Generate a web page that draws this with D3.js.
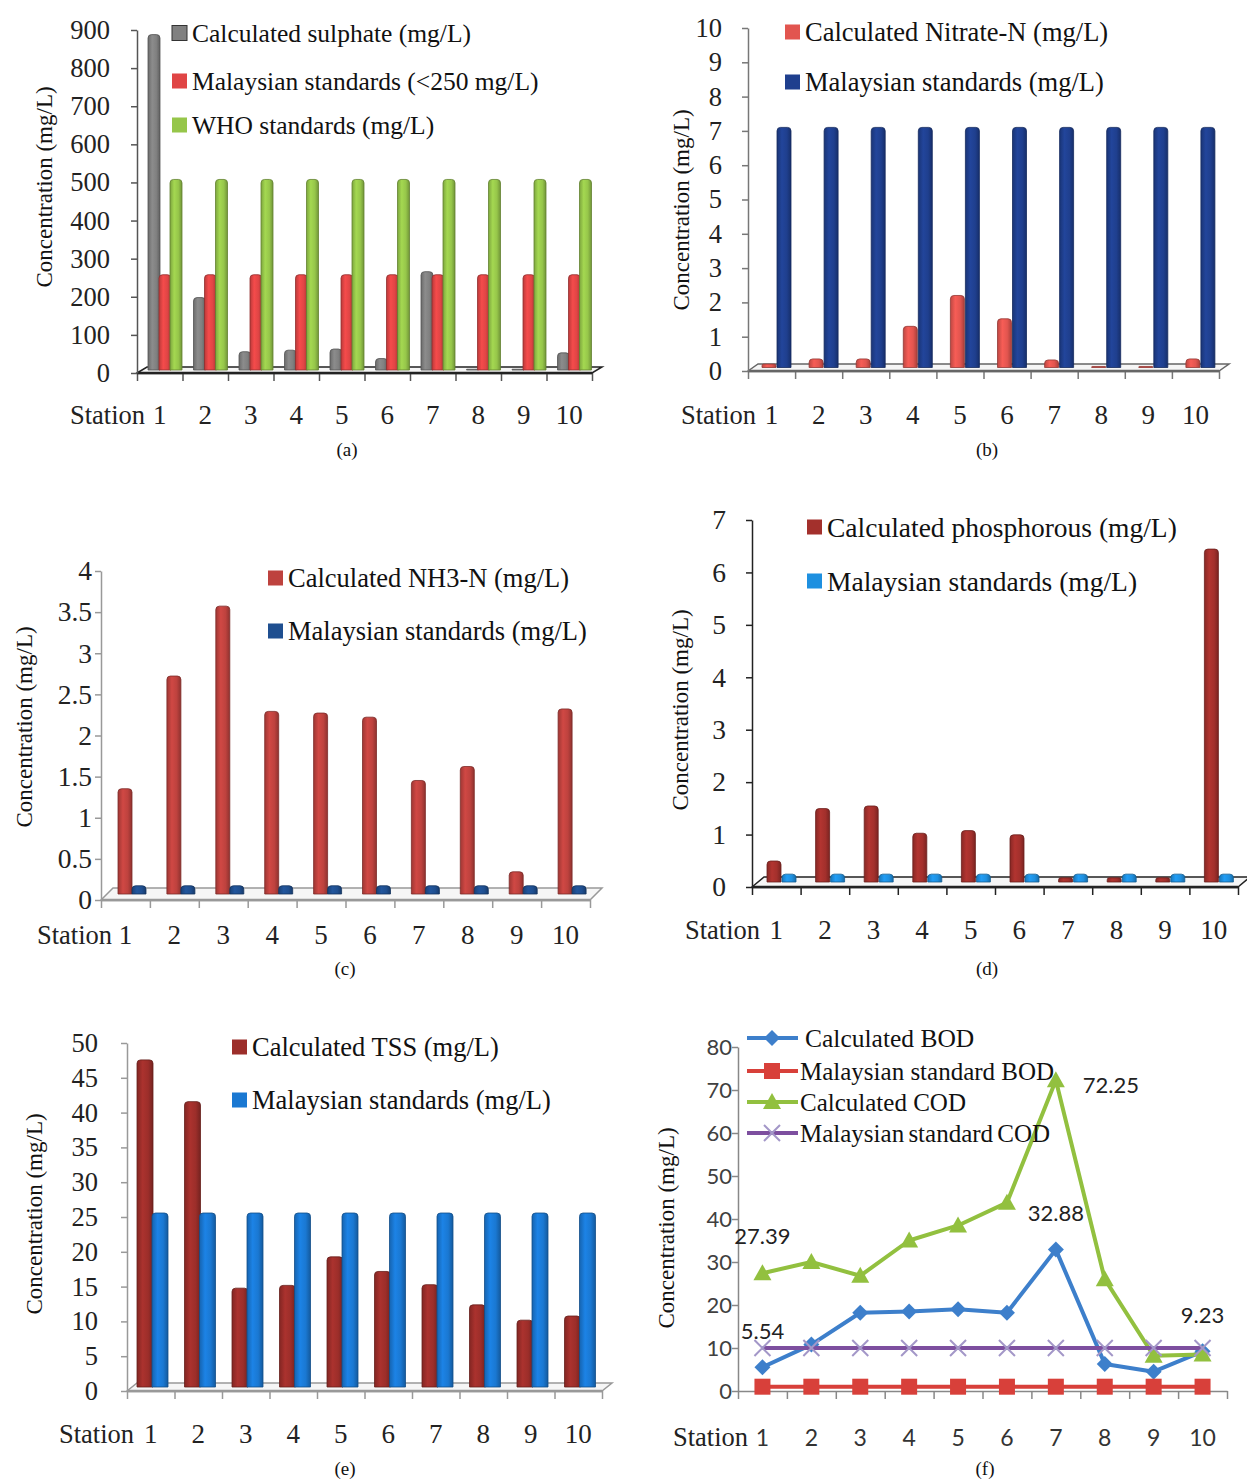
<!DOCTYPE html>
<html>
<head>
<meta charset="utf-8">
<script src="https://cdn.jsdelivr.net/npm/d3@7"></script>
<style>
  body { margin: 0; background: #fff; }
</style>
</head>
<body>
<svg id="fig" width="1247" height="1479"></svg>
<script>
'use strict';

var stations = ['1', '2', '3', '4', '5', '6', '7', '8', '9', '10'];

/* (a) sulphate */
var sulphate    = [880, 190, 48, 52, 55, 30, 258, 2, 2, 45];
var sulphateMy  = [250, 250, 250, 250, 250, 250, 250, 250, 250, 250];
var sulphateWho = [500, 500, 500, 500, 500, 500, 500, 500, 500, 500];

/* (b) nitrate */
var nitrate   = [0.1, 0.25, 0.25, 1.2, 2.1, 1.42, 0.22, 0.03, 0.03, 0.25];
var nitrateMy = [7, 7, 7, 7, 7, 7, 7, 7, 7, 7];

/* (c) NH3-N */
var nh3   = [1.28, 2.65, 3.5, 2.22, 2.2, 2.15, 1.38, 1.55, 0.27, 2.25];
var nh3My = [0.1, 0.1, 0.1, 0.1, 0.1, 0.1, 0.1, 0.1, 0.1, 0.1];

/* (d) phosphorous */
var phos   = [0.4, 1.4, 1.45, 0.93, 0.98, 0.9, 0.08, 0.08, 0.08, 6.35];
var phosMy = [0.15, 0.15, 0.15, 0.15, 0.15, 0.15, 0.15, 0.15, 0.15, 0.15];

/* (e) TSS */
var tss   = [47, 41, 14.2, 14.6, 18.7, 16.6, 14.7, 11.8, 9.6, 10.2];
var tssMy = [25, 25, 25, 25, 25, 25, 25, 25, 25, 25];

/* (f) BOD / COD */
var bod   = [5.54, 10.8, 18.2, 18.5, 19, 18.2, 32.88, 6.3, 4.5, 9.23];
var bodMy = [1, 1, 1, 1, 1, 1, 1, 1, 1, 1];
var cod   = [27.39, 30, 26.8, 35, 38.5, 43.8, 72.25, 26, 8.2, 8.5];
var codMy = [10, 10, 10, 10, 10, 10, 10, 10, 10, 10];

var codLabels = [0, 6];        // station index of labelled COD points
var bodLabels = [0, 6, 9];     // station index of labelled BOD points

var SERIF = '"Liberation Serif", "Times New Roman", serif';
var SANS = 'Lato, "Liberation Sans", sans-serif';

var svg = d3.select('#fig');
var defs = svg.append('defs');
var gradCount = 0;

function barFill(color) {
  var id = 'grad' + (gradCount++);
  var c = d3.color(color);
  var lg = defs.append('linearGradient').attr('id', id)
    .attr('x1', 0).attr('x2', 1).attr('y1', 0).attr('y2', 0);
  lg.append('stop').attr('offset', '0%').attr('stop-color', c.darker(0.5));
  lg.append('stop').attr('offset', '35%').attr('stop-color', c.brighter(0.25));
  lg.append('stop').attr('offset', '70%').attr('stop-color', c);
  lg.append('stop').attr('offset', '100%').attr('stop-color', c.darker(0.8));
  return 'url(#' + id + ')';
}

function barPath(x, w, yt, yb) {
  var r = Math.min(3.5, (yb - yt) / 2, w / 2);
  return 'M' + x + ',' + yb + 'V' + (yt + r) +
    'Q' + x + ',' + yt + ' ' + (x + r) + ',' + yt +
    'H' + (x + w - r) +
    'Q' + (x + w) + ',' + yt + ' ' + (x + w) + ',' + (yt + r) +
    'V' + yb + 'Z';
}

function yTitle(cx, cy) {
  svg.append('text')
    .attr('transform', 'translate(' + cx + ',' + cy + ') rotate(-90)')
    .attr('text-anchor', 'middle')
    .attr('dominant-baseline', 'central')
    .style('font-family', SERIF)
    .style('font-size', '23px')
    .style('fill', '#111')
    .text('Concentration (mg/L)');
}

function caption(cx, cy, t) {
  svg.append('text')
    .attr('x', cx).attr('y', cy)
    .attr('text-anchor', 'middle')
    .attr('dominant-baseline', 'central')
    .style('font-family', SERIF)
    .style('font-size', '19px')
    .style('fill', '#111')
    .text(t);
}

function stationRow(xb, stationEnd, ly, sans) {
  svg.append('text')
    .attr('x', stationEnd).attr('y', ly)
    .attr('text-anchor', 'end')
    .attr('dominant-baseline', 'central')
    .style('font-family', SERIF)
    .style('font-size', '26.5px')
    .style('fill', '#222')
    .text('Station');
  svg.append('g').selectAll('text')
    .data(stations)
    .enter()
    .append('text')
    .attr('x', function (d) { return xb(d) + xb.bandwidth() / 2; })
    .attr('y', ly)
    .attr('text-anchor', 'middle')
    .attr('dominant-baseline', 'central')
    .style('font-family', sans ? SANS : SERIF)
    .style('font-size', sans ? '23px' : '27px')
    .style('fill', sans ? '#333' : '#222')
    .text(function (d) { return d; });
}

function yAxis(y, x0, n, pad, color, size, sans) {
  var ax = svg.append('g')
    .attr('transform', 'translate(' + x0 + ',0)')
    .call(d3.axisLeft(y)
      .tickValues(y.ticks(n))
      .tickSize(6)
      .tickSizeOuter(0)
      .tickPadding(pad)
      .tickFormat(function (d) { return String(d); }));
  ax.attr('font-family', null).attr('font-size', null);
  ax.selectAll('path, line').attr('stroke', color).attr('stroke-width', 1.5);
  ax.selectAll('text')
    .style('font-family', sans ? SANS : SERIF)
    .style('font-size', size + 'px')
    .style('fill', sans ? '#404040' : '#222');
}

function xTicks(x0, x1, y0, color) {
  var xe = d3.scaleLinear().domain([0, stations.length]).range([x0, x1]);
  var ax = svg.append('g')
    .attr('transform', 'translate(0,' + y0 + ')')
    .call(d3.axisBottom(xe).ticks(stations.length).tickSize(8).tickSizeOuter(0).tickFormat(''));
  ax.selectAll('path, line').attr('stroke', color).attr('stroke-width', 1.5);
}

/* ---------- 3D-ish clustered column panel ---------- */
function barPanel(p) {
  var y = d3.scaleLinear().domain([0, p.yMax]).range([p.y0, p.yTop]);
  var xb = d3.scaleBand().domain(stations).range([p.x0, p.x1]);
  var xs = d3.scaleBand().domain(d3.range(p.series.length))
    .range([p.groupStart, p.groupStart + p.step * p.series.length]);

  xTicks(p.x0, p.x1, p.y0, p.axisColor);

  /* Floor */
  svg.append('path')
    .attr('d', 'M' + p.x0 + ',' + p.y0 + 'L' + (p.x0 + p.dx) + ',' + (p.y0 - p.dy) +
      'L' + (p.x1 + p.dx) + ',' + (p.y0 - p.dy) + 'L' + p.x1 + ',' + p.y0 + 'Z')
    .attr('fill', '#f6f6f6')
    .attr('stroke', p.floorColor)
    .attr('stroke-width', 1.5);
  svg.append('line')
    .attr('x1', p.x0).attr('x2', p.x1).attr('y1', p.y0).attr('y2', p.y0)
    .attr('stroke', p.floorColor).attr('stroke-width', 2.5);

  yAxis(y, p.x0, p.nTicks, p.pad, p.axisColor, p.tickSize, false);

  /* Bars */
  var lift = p.dy / 2;
  p.series.forEach(function (s, si) {
    var fill = barFill(s.color);
    svg.append('g').selectAll('path')
      .data(s.values)
      .enter()
      .append('path')
      .attr('d', function (v, i) {
        var x = xb(stations[i]) + xs(si);
        return barPath(x, p.barW, y(v) - lift, p.y0 - lift);
      })
      .attr('fill', fill)
      .attr('stroke', d3.color(s.color).darker(1.2))
      .attr('stroke-width', 0.8);
  });

  /* Legend */
  p.series.forEach(function (s, si) {
    var cy = p.legRows[si];
    svg.append('rect')
      .attr('x', p.legX).attr('y', cy - 7.5)
      .attr('width', 15).attr('height', 15)
      .attr('fill', s.color)
      .attr('stroke', s.legStroke || 'none');
    svg.append('text')
      .attr('x', p.legX + 20).attr('y', cy)
      .attr('dominant-baseline', 'central')
      .style('font-family', SERIF)
      .style('font-size', p.legSize + 'px')
      .style('fill', '#111')
      .text(s.name);
  });

  yTitle(p.titleX, p.titleY);
  stationRow(xb, p.stationEnd, p.stationY, false);
  caption(p.capX, p.capY, p.cap);
}

barPanel({
  x0: 137, x1: 592, y0: 373, yTop: 30, yMax: 900, nTicks: 9, pad: 21, tickSize: 26.5,
  dx: 10, dy: 6, groupStart: 11, step: 11, barW: 12,
  axisColor: '#555', floorColor: '#222',
  series: [
    { name: 'Calculated sulphate (mg/L)', values: sulphate, color: '#808080', legStroke: '#333' },
    { name: 'Malaysian standards (<250 mg/L)', values: sulphateMy, color: '#e04545' },
    { name: 'WHO standards (mg/L)', values: sulphateWho, color: '#96c64a' }
  ],
  legX: 172, legRows: [33, 81, 125], legSize: 25.5,
  titleX: 44, titleY: 187, stationEnd: 145, stationY: 415,
  capX: 347, capY: 449, cap: '(a)'
});

barPanel({
  x0: 748, x1: 1219, y0: 371, yTop: 28, yMax: 10, nTicks: 10, pad: 20, tickSize: 26.5,
  dx: 10, dy: 7, groupStart: 14, step: 15, barW: 14,
  axisColor: '#777', floorColor: '#666',
  series: [
    { name: 'Calculated Nitrate-N (mg/L)', values: nitrate, color: '#e2554f' },
    { name: 'Malaysian standards (mg/L)', values: nitrateMy, color: '#1f3f8e' }
  ],
  legX: 785, legRows: [32, 82], legSize: 26.5,
  titleX: 681, titleY: 210, stationEnd: 756, stationY: 415,
  capX: 987, capY: 449, cap: '(b)'
});

barPanel({
  x0: 101, x1: 590, y0: 900, yTop: 571, yMax: 4, nTicks: 8, pad: 3, tickSize: 27.5,
  dx: 12, dy: 12, groupStart: 17, step: 14, barW: 14,
  axisColor: '#999', floorColor: '#999',
  series: [
    { name: 'Calculated NH3-N (mg/L)', values: nh3, color: '#be423e' },
    { name: 'Malaysian standards (mg/L)', values: nh3My, color: '#1f4f90' }
  ],
  legX: 268, legRows: [578, 631], legSize: 26.5,
  titleX: 24, titleY: 727, stationEnd: 112, stationY: 935,
  capX: 345, capY: 968, cap: '(c)'
});

barPanel({
  x0: 752, x1: 1238, y0: 887, yTop: 520, yMax: 7, nTicks: 7, pad: 20, tickSize: 27.5,
  dx: 12, dy: 10, groupStart: 15, step: 15, barW: 14,
  axisColor: '#222', floorColor: '#222',
  series: [
    { name: 'Calculated phosphorous (mg/L)', values: phos, color: '#a3302c' },
    { name: 'Malaysian standards (mg/L)', values: phosMy, color: '#1e90e0' }
  ],
  legX: 807, legRows: [527, 581], legSize: 27.5,
  titleX: 680, titleY: 710, stationEnd: 760, stationY: 930,
  capX: 987, capY: 968, cap: '(d)'
});

barPanel({
  x0: 127, x1: 602, y0: 1391, yTop: 1043, yMax: 50, nTicks: 10, pad: 23, tickSize: 26.5,
  dx: 10, dy: 8, groupStart: 10, step: 15, barW: 16,
  axisColor: '#999', floorColor: '#999',
  series: [
    { name: 'Calculated TSS (mg/L)', values: tss, color: '#9c2e2a' },
    { name: 'Malaysian standards (mg/L)', values: tssMy, color: '#1a78d2' }
  ],
  legX: 232, legRows: [1047, 1100], legSize: 26.5,
  titleX: 34, titleY: 1214, stationEnd: 134, stationY: 1434,
  capX: 345, capY: 1468, cap: '(e)'
});

/* ---------- (f) line chart ---------- */
var F = { x0: 738, x1: 1227, y0: 1391, yTop: 1047 };
var fy = d3.scaleLinear().domain([0, 80]).range([F.y0, F.yTop]);
var fx = d3.scaleBand().domain(stations).range([F.x0, F.x1]);
function cx(i) { return fx(stations[i]) + fx.bandwidth() / 2; }

xTicks(F.x0, F.x1, F.y0, '#888');
yAxis(fy, F.x0, 8, 0, '#888', 22, true);

function marker(g, type, color) {
  if (type === 'diamond') {
    g.append('path').attr('d', 'M0,-8L8,0L0,8L-8,0Z').attr('fill', color);
  } else if (type === 'square') {
    g.append('rect').attr('x', -8).attr('y', -8).attr('width', 16).attr('height', 16).attr('fill', color);
  } else if (type === 'triangle') {
    g.append('path').attr('d', 'M0,-9L9,7L-9,7Z').attr('fill', color);
  } else {
    g.append('path').attr('d', 'M-8,-8L8,8M-8,8L8,-8')
      .attr('stroke', '#a397c8').attr('stroke-width', 2).attr('fill', 'none');
  }
}

var lineSeries = [
  { name: 'Calculated BOD', values: bod, color: '#3d7fcb', marker: 'diamond' },
  { name: 'Malaysian standard BOD', values: bodMy, color: '#d8403a', marker: 'square' },
  { name: 'Calculated COD', values: cod, color: '#92c03f', marker: 'triangle' },
  { name: 'Malaysian standard COD', values: codMy, color: '#7d4f9f', marker: 'x' }
];

var line = d3.line()
  .x(function (d, i) { return cx(i); })
  .y(function (d) { return fy(d); });

lineSeries.forEach(function (s) {
  svg.append('path')
    .datum(s.values)
    .attr('d', line)
    .attr('fill', 'none')
    .attr('stroke', s.color)
    .attr('stroke-width', 4)
    .attr('stroke-linejoin', 'round');
  svg.append('g').selectAll('g')
    .data(s.values)
    .enter()
    .append('g')
    .attr('transform', function (d, i) { return 'translate(' + cx(i) + ',' + fy(d) + ')'; })
    .each(function () { marker(d3.select(this), s.marker, s.color); });
});

/* Data labels */
function dataLabel(x, yv, t) {
  svg.append('text')
    .attr('x', x).attr('y', yv)
    .attr('text-anchor', 'middle')
    .attr('dominant-baseline', 'central')
    .style('font-family', SANS)
    .style('font-size', '22px')
    .style('fill', '#222')
    .text(t);
}
bodLabels.forEach(function (i) { dataLabel(cx(i), fy(bod[i]) - 37, String(bod[i])); });
codLabels.forEach(function (i) {
  if (cod[i] > 60) dataLabel(cx(i) + 55, fy(cod[i]) + 4, String(cod[i]));
  else dataLabel(cx(i), fy(cod[i]) - 38, String(cod[i]));
});

/* Legend (f) */
var fLegRows = [1038, 1071, 1102, 1133];
lineSeries.forEach(function (s, i) {
  var ly = fLegRows[i];
  svg.append('line')
    .attr('x1', 747).attr('x2', 798).attr('y1', ly).attr('y2', ly)
    .attr('stroke', s.color).attr('stroke-width', 4);
  var g = svg.append('g').attr('transform', 'translate(772,' + ly + ')');
  marker(g, s.marker, s.color);
  svg.append('text')
    .attr('x', i === 0 ? 805 : 800).attr('y', ly)
    .attr('dominant-baseline', 'central')
    .style('font-family', SERIF)
    .style('font-size', i === 0 ? '25.5px' : '25px')
    .style('word-spacing', i === 3 ? '-2px' : '0px')
    .style('fill', '#111')
    .text(s.name);
});

yTitle(666, 1228);
stationRow(fx, 748, 1437, true);
caption(985, 1468, '(f)');
</script>
</body>
</html>
